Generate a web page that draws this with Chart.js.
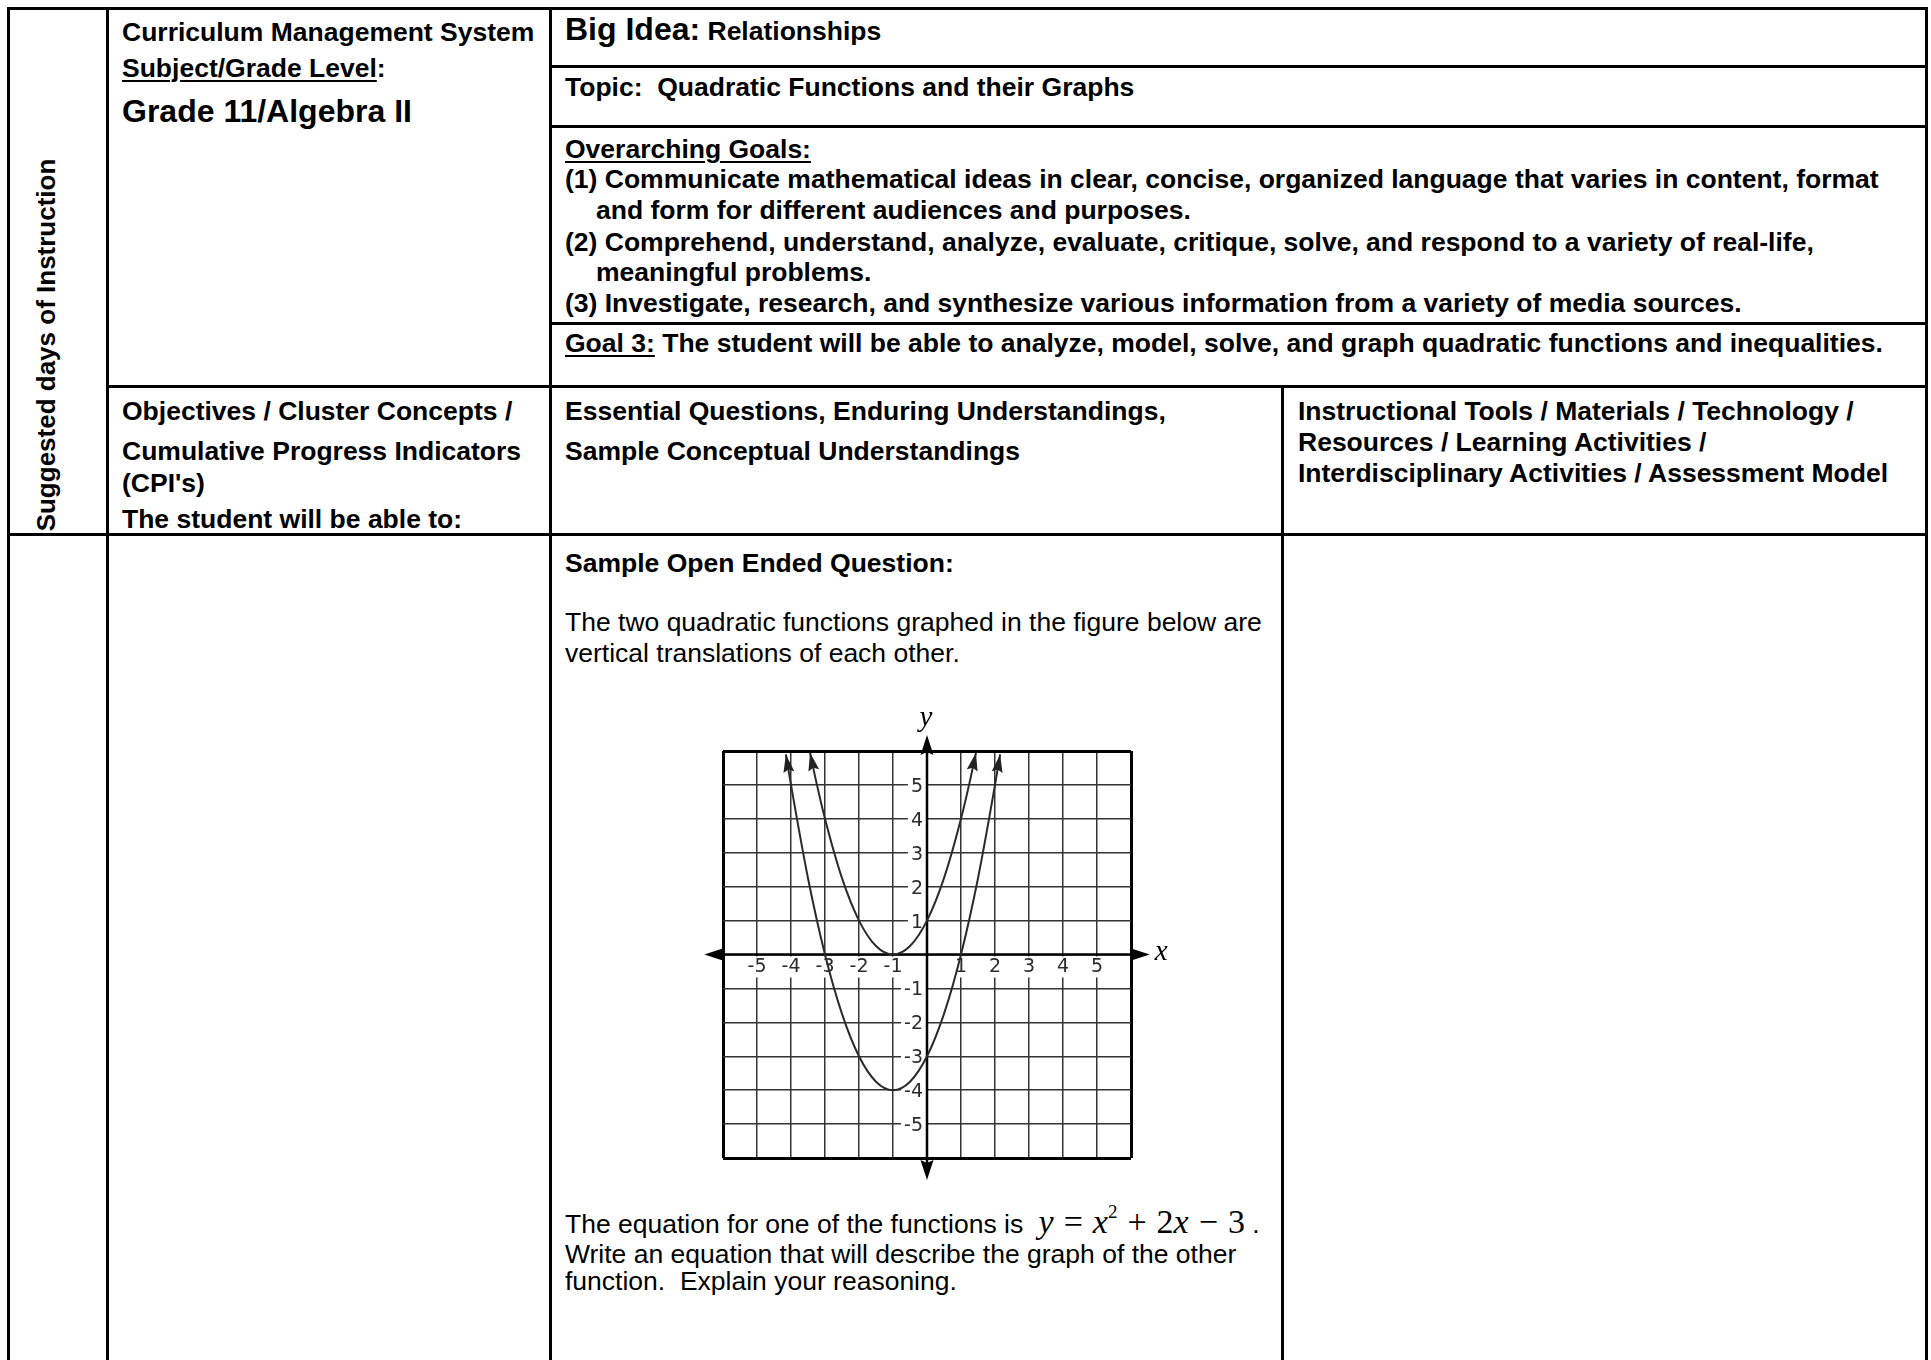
<!DOCTYPE html>
<html><head><meta charset="utf-8">
<script src="https://cdn.jsdelivr.net/npm/chart.js@4.4.1/dist/chart.umd.min.js"></script>
<style>
html,body{margin:0;padding:0;background:#fff;}
body{width:1931px;height:1360px;position:relative;overflow:hidden;font-family:"Liberation Sans",Arial,sans-serif;color:#000;}
.l{position:absolute;background:#000;}
.t{position:absolute;white-space:nowrap;font-size:26.5px;line-height:1;font-weight:bold;}
.r{font-weight:normal;}
u{text-decoration-thickness:2px;text-underline-offset:3px;}
.eq{font-family:"Liberation Serif","Times New Roman",serif;font-size:34px;font-weight:normal;margin-left:8px;}
.eq sup{font-size:19px;position:relative;top:-3px;vertical-align:top;}
.op{margin:0 10px;}
#vert{position:absolute;left:-154.5px;top:332px;width:400px;height:26px;font-size:26px;text-align:center;transform:rotate(-90deg);transform-origin:50% 50%;}
#chartBox{position:absolute;left:680px;top:700px;width:500px;height:500px;}
</style></head><body>

<!-- table rules -->
<div class="l" style="left:7px;top:7px;width:3px;height:1353px"></div>
<div class="l" style="left:7px;top:7px;width:1921px;height:3px"></div>
<div class="l" style="left:1925px;top:7px;width:3px;height:1353px"></div>
<div class="l" style="left:106px;top:7px;width:3px;height:1353px"></div>
<div class="l" style="left:549px;top:7px;width:3px;height:1353px"></div>
<div class="l" style="left:1281px;top:385px;width:3px;height:975px"></div>
<div class="l" style="left:549px;top:65px;width:1379px;height:3px"></div>
<div class="l" style="left:549px;top:125px;width:1379px;height:3px"></div>
<div class="l" style="left:549px;top:322px;width:1379px;height:3px"></div>
<div class="l" style="left:106px;top:384.5px;width:1822px;height:3.5px"></div>
<div class="l" style="left:7px;top:532.5px;width:1921px;height:3.5px"></div>

<!-- vertical label -->
<div class="t" id="vert">Suggested days of Instruction</div>

<!-- column 2 upper -->
<div class="t" style="left:122px;top:19px">Curriculum Management System</div>
<div class="t" style="left:122px;top:55px"><u>Subject/Grade Level</u>:</div>
<div class="t" style="left:122px;top:95px;font-size:32px">Grade 11/Algebra II</div>

<!-- column 2 header -->
<div class="t" style="left:122px;top:398px">Objectives / Cluster Concepts /</div>
<div class="t" style="left:122px;top:438px">Cumulative Progress Indicators</div>
<div class="t" style="left:122px;top:469.5px">(CPI's)</div>
<div class="t" style="left:122px;top:505.5px">The student will be able to:</div>

<!-- right upper -->
<div class="t" style="left:565px;top:13px"><span style="font-size:32px">Big Idea:</span> Relationships</div>
<div class="t" style="left:565px;top:74px">Topic:&nbsp; Quadratic Functions and their Graphs</div>
<div class="t" style="left:565px;top:136px"><u>Overarching Goals:</u></div>
<div class="t" style="left:565px;top:166px">(1) Communicate mathematical ideas in clear, concise, organized language that varies in content, format</div>
<div class="t" style="left:596px;top:197px">and form for different audiences and purposes.</div>
<div class="t" style="left:565px;top:229px">(2) Comprehend, understand, analyze, evaluate, critique, solve, and respond to a variety of real-life,</div>
<div class="t" style="left:596px;top:259px">meaningful problems.</div>
<div class="t" style="left:565px;top:290px">(3) Investigate, research, and synthesize various information from a variety of media sources.</div>
<div class="t" style="left:565px;top:330px"><u>Goal 3:</u> The student will be able to analyze, model, solve, and graph quadratic functions and inequalities.</div>

<!-- header row -->
<div class="t" style="left:565px;top:398px">Essential Questions, Enduring Understandings,</div>
<div class="t" style="left:565px;top:438px">Sample Conceptual Understandings</div>
<div class="t" style="left:1298px;top:398px">Instructional Tools / Materials / Technology /</div>
<div class="t" style="left:1298px;top:429px">Resources / Learning Activities /</div>
<div class="t" style="left:1298px;top:460px">Interdisciplinary Activities / Assessment Model</div>

<!-- body -->
<div class="t" style="left:565px;top:550px">Sample Open Ended Question:</div>
<div class="t r" style="left:565px;top:609px">The two quadratic functions graphed in the figure below are</div>
<div class="t r" style="left:565px;top:640px">vertical translations of each other.</div>
<div class="t r" style="left:565px;top:1205px">The equation for one of the functions is <span class="eq"><i>y</i><span class="op">=</span><i>x</i><sup>2</sup><span class="op">+</span>2<i>x</i><span class="op">&minus;</span>3</span> .</div>
<div class="t r" style="left:565px;top:1241px">Write an equation that will describe the graph of the other</div>
<div class="t r" style="left:565px;top:1268px">function.&nbsp; Explain your reasoning.</div>

<div id="chartBox"><canvas id="c" width="500" height="500"></canvas></div>

<script>
// ---- data ----
const GRID_MIN = -6;
const GRID_MAX = 6;
const X_TICK_LABELS = [-5, -4, -3, -2, -1, 1, 2, 3, 4, 5];
const Y_TICK_LABELS = [5, 4, 3, 2, 1, -1, -2, -3, -4, -5];
const AXIS_X_EXTENT = [-6.55, 6.55];
const AXIS_Y_EXTENT = [-6.65, 6.47];
const UPPER_X = [-3.44, -3.25, -3, -2.5, -2, -1.5, -1, -0.5, 0, 0.5, 1, 1.25, 1.44];
const UPPER_Y = [5.95, 5.06, 4, 2.25, 1, 0.25, 0, 0.25, 1, 2.25, 4, 5.06, 5.95];
const LOWER_X = [-4.15, -4, -3.5, -3, -2.5, -2, -1.5, -1, -0.5, 0, 0.5, 1, 1.5, 2, 2.15];
const LOWER_Y = [5.9, 5, 2.25, 0, -1.75, -3, -3.75, -4, -3.75, -3, -1.75, 0, 2.25, 5, 5.9];

const toPts = (xs, ys) => xs.map((x, i) => ({x: x, y: ys[i]}));

function arrowHead(ctx, tx, ty, fx, fy, len, half) {
  const a = Math.atan2(ty - fy, tx - fx);
  ctx.save();
  ctx.translate(tx, ty);
  ctx.rotate(a);
  ctx.beginPath();
  ctx.moveTo(0, 0);
  ctx.lineTo(-len, half);
  ctx.lineTo(-len * 0.85, 0);
  ctx.lineTo(-len, -half);
  ctx.closePath();
  ctx.fill();
  ctx.restore();
}

const overlay = {
  id: 'overlay',
  beforeDatasetsDraw(chart) {
    const ctx = chart.ctx, xs = chart.scales.x, ys = chart.scales.y;
    const x0 = xs.getPixelForValue(0), y0 = ys.getPixelForValue(0);
    ctx.save();
    ctx.font = '19px "DejaVu Sans", Verdana, sans-serif';
    ctx.textBaseline = 'middle';
    // x tick labels
    ctx.textAlign = 'center';
    X_TICK_LABELS.forEach(v => {
      const px = xs.getPixelForValue(v);
      const w = ctx.measureText(String(v)).width;
      ctx.fillStyle = '#fff';
      ctx.fillRect(px - w / 2 - 2, y0 + 2, w + 4, 21);
      ctx.fillStyle = '#2b2b2b';
      ctx.fillText(String(v), px, y0 + 13);
    });
    // y tick labels
    ctx.textAlign = 'right';
    Y_TICK_LABELS.forEach(v => {
      const py = ys.getPixelForValue(v);
      const w = ctx.measureText(String(v)).width;
      ctx.fillStyle = '#fff';
      ctx.fillRect(x0 - 5 - w - 2, py - 10, w + 6, 21);
      ctx.fillStyle = '#2b2b2b';
      ctx.fillText(String(v), x0 - 4, py + 2);
    });
    // axes
    ctx.strokeStyle = '#000';
    ctx.fillStyle = '#000';
    ctx.lineWidth = 2.5;
    const xa = xs.getPixelForValue(AXIS_X_EXTENT[0]), xb = xs.getPixelForValue(AXIS_X_EXTENT[1]);
    const ya = ys.getPixelForValue(AXIS_Y_EXTENT[0]), yb = ys.getPixelForValue(AXIS_Y_EXTENT[1]);
    ctx.beginPath();
    ctx.moveTo(xa + 8, y0); ctx.lineTo(xb - 8, y0);
    ctx.moveTo(x0, ya - 8); ctx.lineTo(x0, yb + 8);
    ctx.stroke();
    arrowHead(ctx, xa, y0, xa + 10, y0, 20, 6.5);
    arrowHead(ctx, xb, y0, xb - 10, y0, 20, 6.5);
    arrowHead(ctx, x0, yb, x0, yb + 10, 20, 6.5);
    arrowHead(ctx, x0, ya, x0, ya - 10, 20, 6.5);
    // axis names
    ctx.font = 'italic 29px "Liberation Serif", "Times New Roman", serif';
    ctx.textAlign = 'left';
    ctx.fillText('x', xb + 5, y0 - 2);
    ctx.textAlign = 'center';
    ctx.fillText('y', x0 - 1, yb - 17);
    ctx.restore();
  },
  afterDatasetsDraw(chart) {
    const ctx = chart.ctx;
    ctx.save();
    ctx.fillStyle = '#222';
    chart.data.datasets.forEach((ds, i) => {
      const pts = chart.getDatasetMeta(i).data;
      const n = pts.length;
      arrowHead(ctx, pts[0].x, pts[0].y, pts[1].x, pts[1].y, 18, 5.5);
      arrowHead(ctx, pts[n - 1].x, pts[n - 1].y, pts[n - 2].x, pts[n - 2].y, 18, 5.5);
    });
    ctx.restore();
  }
};

const gridScale = (isX) => ({
  type: 'linear',
  min: GRID_MIN,
  max: GRID_MAX,
  ticks: {stepSize: 1, display: false},
  border: {display: false},
  grid: {
    drawTicks: false,
    color: c => Math.abs(c.tick.value) === GRID_MAX ? '#000' : '#333',
    lineWidth: c => Math.abs(c.tick.value) === GRID_MAX ? 3 : 1.5
  },
  afterFit: s => { if (isX) s.height = 0; else s.width = 0; }
});

new Chart(document.getElementById('c'), {
  type: 'scatter',
  data: {
    datasets: [
      {data: toPts(UPPER_X, UPPER_Y), showLine: true, pointRadius: 0, borderColor: '#2a2a2a', borderWidth: 2, cubicInterpolationMode: 'monotone', clip: false},
      {data: toPts(LOWER_X, LOWER_Y), showLine: true, pointRadius: 0, borderColor: '#2a2a2a', borderWidth: 2, cubicInterpolationMode: 'monotone', clip: false}
    ]
  },
  options: {
    responsive: false,
    animation: false,
    events: [],
    layout: {padding: {left: 43, right: 49, top: 51, bottom: 42}},
    plugins: {legend: {display: false}, tooltip: {enabled: false}},
    scales: {x: gridScale(true), y: gridScale(false)}
  },
  plugins: [overlay]
});
</script>
</body></html>
